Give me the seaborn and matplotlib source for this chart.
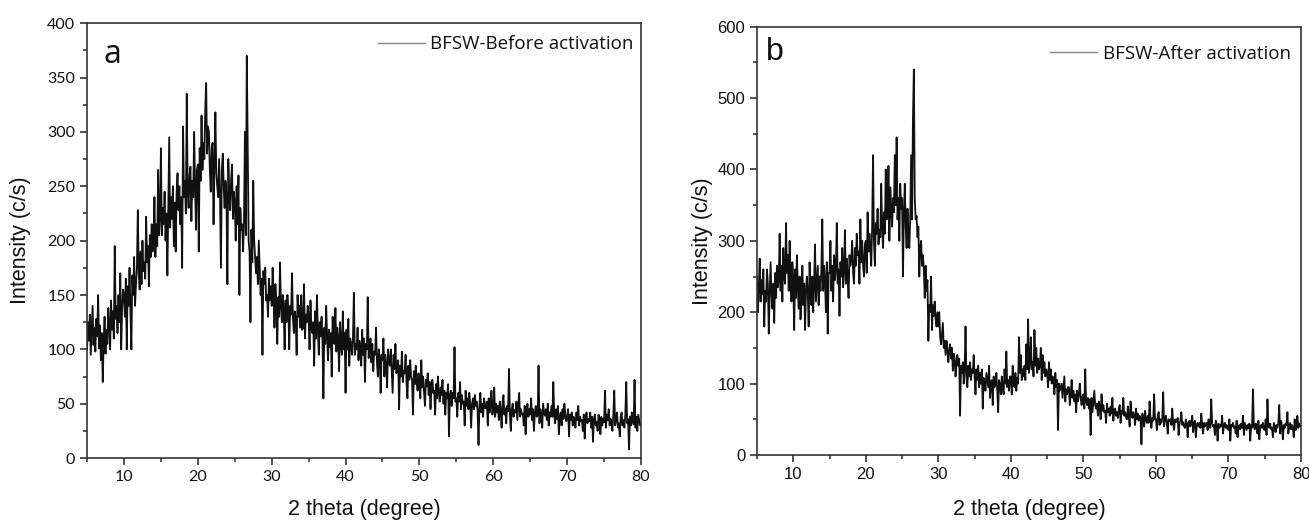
import numpy as np
import pandas as pd
import matplotlib
matplotlib.use("Agg")
import matplotlib.pyplot as plt
import seaborn as sns
from matplotlib.ticker import MultipleLocator

# ---------------- data (0.125 degree steps from 5 to 80) ----------------
theta_start = 5.0
theta_step = 0.125

# one line per degree (8 readings), panel a
before_activation = [
    100, 125, 108, 132, 95, 118, 140, 104,
    120, 98, 128, 112, 150, 101, 122, 90,
    115, 70, 108, 130, 96, 118, 105, 138,
    122, 100, 145, 118, 135, 110, 195, 128,
    140, 115, 150, 125, 170, 100, 138, 155,
    150, 130, 165, 100, 158, 140, 175, 135,
    100, 168, 150, 185, 140, 160, 175, 228,
    170, 155, 190, 160, 200, 172, 180, 165,
    222, 180, 195, 158, 205, 185, 215, 190,
    200, 240, 185, 215, 195, 265, 205, 220,
    285, 205, 230, 215, 245, 200, 225, 168,
    230, 295, 212, 240, 220, 250, 195, 235,
    190, 245, 262, 228, 250, 215, 240, 175,
    305, 240, 255, 225, 335, 245, 230, 260,
    268, 218, 255, 240, 300, 250, 210, 265,
    270, 190, 285, 255, 315, 265, 290, 275,
    320, 345, 280, 305, 300, 265, 245, 285,
    290, 215, 270, 318, 262, 250, 240, 275,
    240, 175, 265, 280, 250, 230, 255, 240,
    160, 275, 245, 228, 255, 270, 220, 245,
    235, 200, 250, 215, 260, 150, 230, 210,
    215, 190, 220, 300, 205, 370, 290, 200,
    190, 125, 210, 180, 255, 200, 185, 170,
    185, 160, 200, 175, 150, 165, 95, 172,
    160, 175, 145, 150, 130, 165, 145, 158,
    140, 175, 150, 120, 160, 145, 105, 148,
    130, 180, 140, 125, 150, 135, 100, 145,
    125, 150, 138, 100, 140, 132, 170, 128,
    115, 135, 128, 95, 150, 130, 140, 120,
    150, 118, 120, 160, 110, 132, 125, 140,
    130, 100, 145, 118, 115, 125, 85, 135,
    110, 150, 118, 95, 125, 112, 130, 108,
    55, 120, 105, 140, 112, 90, 118, 102,
    115, 75, 130, 108, 105, 138, 98, 120,
    110, 80, 125, 105, 95, 135, 100, 115,
    60, 118, 100, 128, 85, 110, 105, 95,
    110, 152, 95, 105, 100, 120, 90, 108,
    100, 85, 118, 95, 110, 70, 105, 100,
    148, 92, 100, 110, 88, 105, 80, 98,
    95, 120, 88, 75, 100, 92, 60, 95,
    90, 110, 75, 95, 85, 65, 100, 88,
    85, 100, 80, 60, 95, 82, 105, 78,
    82, 90, 45, 85, 75, 98, 70, 80,
    78, 95, 70, 55, 85, 72, 90, 75,
    72, 40, 80, 68, 85, 70, 62, 78,
    70, 55, 90, 65, 75, 60, 48, 72,
    66, 78, 58, 70, 45, 65, 72, 60,
    62, 40, 68, 55, 75, 60, 52, 65,
    58, 72, 50, 62, 40, 60, 55, 68,
    20, 58, 62, 48, 60, 55, 102, 52,
    55, 38, 60, 52, 70, 45, 58, 50,
    52, 30, 62, 48, 55, 45, 60, 50,
    28, 50, 55, 45, 58, 48, 52, 44,
    12, 48, 60, 42, 50, 38, 55, 46,
    46, 52, 30, 55, 42, 48, 62, 40,
    45, 65, 38, 50, 42, 48, 35, 52,
    44, 28, 50, 58, 40, 46, 32, 48,
    43, 82, 40, 25, 45, 50, 38, 44,
    42, 52, 35, 48, 60, 38, 45, 40,
    41, 30, 48, 22, 42, 50, 38, 45,
    40, 55, 35, 45, 25, 42, 48, 38,
    39, 85, 32, 45, 40, 28, 50, 42,
    39, 45, 35, 50, 30, 42, 38, 48,
    38, 70, 40, 32, 45, 36, 48, 22,
    38, 42, 30, 45, 36, 50, 40, 34,
    37, 45, 20, 40, 35, 42, 30, 38,
    36, 28, 42, 35, 48, 30, 38, 34,
    35, 25, 40, 18, 38, 42, 32, 36,
    34, 42, 28, 38, 15, 36, 40, 30,
    33, 25, 40, 35, 22, 38, 30, 36,
    33, 62, 28, 40, 35, 45, 30, 36,
    33, 25, 40, 62, 30, 35, 42, 28,
    32, 20, 38, 42, 30, 35, 28, 40,
    70, 32, 36, 8, 38, 30, 42, 34,
    31, 72, 28, 38, 25, 40, 35, 30,
    31,
]

# one line per degree (8 readings), panel b
after_activation = [
    250, 200, 235, 275, 215, 245, 225, 260,
    180, 230, 215, 260, 240, 170, 225, 270,
    225, 205, 240, 185, 255, 220, 265, 235,
    245, 310, 230, 265, 215, 290, 250, 240,
    325, 255, 280, 230, 300, 250, 215, 270,
    245, 175, 260, 220, 280, 235, 205, 250,
    190, 225, 265, 210, 240, 175, 230, 250,
    225, 180, 270, 235, 210, 250, 200, 240,
    295, 215, 240, 265, 210, 250, 230, 260,
    330, 230, 265, 245, 200, 270, 170, 255,
    255, 300, 230, 265, 215, 280, 245, 260,
    325, 240, 260, 195, 270, 250, 290, 235,
    260, 315, 240, 275, 250, 220, 280, 265,
    275, 300, 255, 240, 290, 265, 310, 280,
    285, 240, 330, 270, 300, 265, 250, 295,
    300, 255, 340, 285, 310, 290, 265, 320,
    420, 300, 265, 325, 310, 345, 295, 315,
    305, 380, 320, 290, 340, 310, 400, 330,
    335, 405, 300, 375, 345, 320, 360, 340,
    420, 350, 445, 330, 360, 300, 380, 345,
    360, 250, 340, 380, 320, 290, 345, 310,
    290, 330, 420, 330, 470, 540, 360, 330,
    335, 305, 320, 250, 290, 300, 265, 280,
    260, 220, 265, 230, 245, 160, 210, 200,
    250, 175, 210, 195, 215, 190, 180, 200,
    180, 200, 165, 155, 170, 185, 150, 160,
    140, 160, 150, 130, 145, 155, 135, 150,
    118, 142, 135, 110, 130, 140, 125, 135,
    55, 125, 115, 130, 100, 120, 180, 110,
    95, 125, 110, 130, 105, 120, 115, 140,
    110, 85, 120, 105, 125, 95, 115, 100,
    120, 65, 108, 100, 90, 115, 105, 95,
    125, 80, 100, 105, 70, 110, 95, 100,
    115, 90, 60, 105, 98, 85, 110, 95,
    85, 120, 100, 145, 95, 105, 90, 110,
    110, 85, 125, 100, 95, 115, 90, 108,
    100, 165, 115, 140, 105, 120, 110, 125,
    105, 155, 120, 190, 115, 130, 165, 120,
    130, 110, 175, 125, 150, 115, 135, 120,
    125, 150, 105, 140, 115, 130, 110, 120,
    115, 95, 130, 105, 120, 100, 110, 105,
    85, 115, 95, 105, 35, 100, 90, 95,
    100, 80, 95, 110, 75, 92, 85, 95,
    95, 70, 85, 105, 80, 90, 75, 85,
    60, 90, 75, 85, 100, 80, 70, 82,
    85, 65, 120, 75, 70, 80, 65, 78,
    28, 80, 60, 75, 90, 70, 65, 72,
    55, 75, 68, 50, 85, 62, 70, 60,
    62, 45, 72, 60, 65, 55, 68, 58,
    80, 48, 62, 65, 55, 60, 52, 64,
    70, 45, 62, 58, 80, 55, 60, 52,
    50, 68, 55, 40, 75, 58, 52, 60,
    55, 42, 65, 50, 58, 48, 55, 52,
    15, 58, 52, 40, 62, 50, 45, 55,
    45, 75, 50, 38, 52, 48, 85, 50,
    50, 35, 55, 60, 42, 50, 45, 52,
    88, 40, 50, 55, 45, 30, 50, 48,
    50, 42, 65, 45, 35, 50, 46, 48,
    52, 28, 45, 48, 60, 42, 46, 40,
    38, 50, 44, 25, 45, 48, 40, 46,
    55, 32, 45, 48, 25, 42, 45, 40,
    45, 38, 58, 42, 30, 45, 40, 44,
    45, 35, 50, 42, 38, 78, 44, 40,
    42, 28, 48, 40, 20, 44, 38, 42,
    40, 55, 30, 42, 45, 38, 42, 36,
    35, 50, 20, 42, 40, 45, 38, 40,
    30, 48, 25, 40, 42, 36, 44, 38,
    55, 28, 45, 40, 35, 42, 38, 44,
    20, 42, 38, 92, 40, 36, 44, 38,
    30, 48, 22, 40, 42, 38, 45, 36,
    35, 50, 28, 78, 40, 38, 44, 36,
    38, 25, 45, 40, 32, 42, 38, 45,
    70, 30, 48, 40, 22, 42, 38, 44,
    42, 60, 30, 40, 45, 36, 42, 38,
    25, 50, 35, 42, 55, 38, 44, 40,
    40,
]

labels = ["BFSW-Before activation", "BFSW-After activation"]
panel_letters = ["a", "b"]
y_limits = [(0, 400), (0, 600)]
y_major = [50, 100]
y_minor = [25, 50]
x_ticks = [10, 20, 30, 40, 50, 60, 70, 80]

# ---------------- figure ----------------
sns.set_style("ticks")
plt.rcParams["font.family"] = ["Liberation Sans", "DejaVu Sans"]

fig = plt.figure(figsize=(13.09, 5.2), dpi=100)
ax_pos = [[0.0665, 0.119, 0.4232, 0.8365], [0.5783, 0.125, 0.4156, 0.8237]]
series = [before_activation, after_activation]
tick_fonts = [["Lato", "DejaVu Sans"], ["Liberation Sans", "DejaVu Sans"]]
tick_sizes = [11.5, 12]
letter_fonts = [["Open Sans", "DejaVu Sans"], ["Liberation Sans", "DejaVu Sans"]]
letter_pos = [(0.030, 0.965), (0.016, 0.975)]
ylabel_x = [-0.102, -0.081]
xlabel_y = [-0.094, -0.103]
legend_anchor = [(1.0, 0.989), (0.995, 0.975)]

for i in range(2):
    ax = fig.add_axes(ax_pos[i])
    vals = series[i]
    theta = theta_start + theta_step * np.arange(len(vals))
    df = pd.DataFrame({"theta": theta, "intensity": vals})
    sns.lineplot(data=df, x="theta", y="intensity", ax=ax, color="#111111",
                 linewidth=1.3, estimator=None, sort=False, label=labels[i])
    ax.set_xlim(5, 80)
    ax.set_ylim(*y_limits[i])
    ax.set_xticks(x_ticks)
    ax.xaxis.set_minor_locator(MultipleLocator(5))
    ax.yaxis.set_major_locator(MultipleLocator(y_major[i]))
    ax.yaxis.set_minor_locator(MultipleLocator(y_minor[i]))
    ax.tick_params(axis="both", which="major", direction="out", length=5, width=1.1,
                   labelsize=tick_sizes[i], colors="#222222", top=False, right=False)
    ax.tick_params(axis="both", which="minor", direction="out", length=3, width=1.1,
                   top=False, right=False)
    for lab in ax.get_xticklabels() + ax.get_yticklabels():
        lab.set_family(tick_fonts[i])
        lab.set_color("#111111")
    for sp in ax.spines.values():
        sp.set_visible(True)
        sp.set_linewidth(1.2)
        sp.set_color("#333333")
    ax.set_xlabel("2 theta (degree)", fontsize=15.5, color="#111111")
    ax.set_ylabel("Intensity (c/s)", fontsize=15.5, color="#111111")
    ax.xaxis.set_label_coords(0.5, xlabel_y[i])
    ax.yaxis.set_label_coords(ylabel_x[i], 0.5)
    ax.text(letter_pos[i][0], letter_pos[i][1], panel_letters[i], transform=ax.transAxes,
            fontsize=23, va="top", ha="left", family=letter_fonts[i], color="#111111")
    leg = ax.legend(loc="upper right", bbox_to_anchor=legend_anchor[i], frameon=False,
                    handlelength=2.5, handletextpad=0.3, borderaxespad=0.0,
                    prop={"family": ["Open Sans", "DejaVu Sans"], "size": 13.5})
    for h in leg.get_lines():
        h.set_color("#888888")
        h.set_linewidth(1.0)
    for t in leg.get_texts():
        t.set_color("#111111")

fig.savefig("out.png", dpi=100)
